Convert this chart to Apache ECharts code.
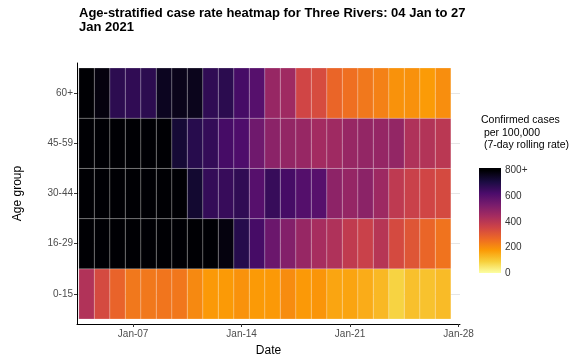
<!DOCTYPE html>
<html>
<head>
<meta charset="utf-8">
<script src="https://cdn.jsdelivr.net/npm/echarts@6/dist/echarts.min.js"></script>
<style>html,body{margin:0;padding:0;background:#fff}#c{width:585px;height:362px}</style>
</head>
<body>
<div id="c"></div>
<script>
// ---- data ----
var dates = ['2021-01-04','2021-01-05','2021-01-06','2021-01-07','2021-01-08','2021-01-09','2021-01-10','2021-01-11',
  '2021-01-12','2021-01-13','2021-01-14','2021-01-15','2021-01-16','2021-01-17','2021-01-18','2021-01-19',
  '2021-01-20','2021-01-21','2021-01-22','2021-01-23','2021-01-24','2021-01-25','2021-01-26','2021-01-27'];
var ageGroups = ['0-15','16-29','30-44','45-59','60+'];
var rate_0_15   = [420,340,280,240,240,244,242,208,180,178,192,178,180,204,180,186,160,162,148,128,84,116,112,124];
var rate_16_29  = [960,990,1010,1000,980,950,920,880,840,785,690,632,560,512,472,440,424,388,368,408,340,312,276,248];
var rate_30_44  = [930,960,950,920,890,860,820,736,664,660,672,600,660,632,605,598,492,476,495,460,392,368,352,340];
var rate_45_59  = [880,900,910,870,850,820,728,688,664,632,616,552,496,480,472,448,456,472,480,476,480,424,416,400];
var rate_60plus = [850,785,680,672,680,760,768,765,672,682,632,600,472,456,352,336,276,256,240,224,192,194,176,200];
var xTickDays = [7,14,21,28];
var xTickLabels = ['Jan-07','Jan-14','Jan-21','Jan-28'];
var legendTicks = [0,200,400,600,800];
var legendTickLabels = ['0','200','400','600','800+'];
var capValue = 800;

// ---- build ----
var rows = [rate_0_15, rate_16_29, rate_30_44, rate_45_59, rate_60plus];
var cells = [];
rows.forEach(function(r, yi){
  r.forEach(function(v, di){
    var day = Number(dates[di].slice(8));
    cells.push([day, yi, v, Math.min(v, capValue)]);
  });
});
var inferno = ['#FCFFA4','#F7D03C','#FB9A06','#ED6925','#CF4446','#A52C60','#781C6D','#4B0C6B','#1B0C42','#000004'];
var barMax = 820;
var stops = inferno.map(function(c, i){
  var v = capValue * i / (inferno.length - 1);
  return {offset: 1 - v / barMax, color: c};
}).reverse();
stops.unshift({offset: 0, color: '#000004'});

var FF = 'Liberation Sans, Arial, sans-serif';
var chart = echarts.init(document.getElementById('c'), null, {width:585, height:362, renderer:'canvas'});
chart.setOption({
  animation: false,
  backgroundColor: '#fff',
  title: [{
    text: 'Age-stratified case rate heatmap for Three Rivers: 04 Jan to 27\nJan 2021',
    left: 74, top: 1,
    textStyle: {fontFamily: FF, fontSize: 13, fontWeight: 'bold', color: '#000', lineHeight: 14}
  },{
    text: 'Confirmed cases\n per 100,000\n (7-day rolling rate)',
    left: 476, top: 109,
    textStyle: {fontFamily: FF, fontSize: 10.5, fontWeight: 'normal', color: '#000', lineHeight: 12.5}
  }],
  grid: [
    {left: 77, right: 125, top: 63, bottom: 38, containLabel: false},
    {left: 479, top: 168, width: 22, height: 105, containLabel: false}
  ],
  visualMap: {
    type: 'continuous', show: false, min: 0, max: capValue, dimension: 3, seriesIndex: 0,
    inRange: {color: inferno}
  },
  xAxis: [{
    gridIndex: 0, type: 'value', min: 3.38, max: 28.09,
    name: 'Date', nameLocation: 'middle', nameGap: 21,
    nameTextStyle: {fontFamily: FF, fontSize: 12, color: '#000'},
    axisLine: {show: true, onZero: false, lineStyle: {color: '#000', width: 1}},
    axisTick: {show: true, length: 3, customValues: xTickDays, lineStyle: {color: '#333'}},
    axisLabel: {customValues: xTickDays, margin: 5, fontFamily: FF, fontSize: 10, color: '#4d4d4d',
      formatter: function(v){ var i = xTickDays.indexOf(v); return i >= 0 ? xTickLabels[i] : ''; }},
    splitLine: {show: false}
  },{
    gridIndex: 1, type: 'category', data: ['bar'], show: false
  }],
  yAxis: [{
    gridIndex: 0, type: 'value', min: -0.6, max: 4.6,
    name: 'Age group', nameLocation: 'middle', nameGap: 53, nameRotate: 90,
    nameTextStyle: {fontFamily: FF, fontSize: 12, color: '#000'},
    axisLine: {show: true, lineStyle: {color: '#000', width: 1}},
    axisTick: {show: true, length: 3, customValues: [0,1,2,3,4], lineStyle: {color: '#333'}},
    axisLabel: {customValues: [0,1,2,3,4], margin: 4, fontFamily: FF, fontSize: 10, color: '#4d4d4d',
      formatter: function(v){ return ageGroups[Math.round(v)] || ''; }},
    splitLine: {show: true, customValues: [0,1,2,3,4], lineStyle: {color: '#e6e6e6', width: 1}}
  },{
    gridIndex: 1, type: 'value', min: 0, max: barMax, position: 'right',
    axisLine: {show: false},
    axisTick: {show: true, inside: true, length: 4, customValues: legendTicks, lineStyle: {color: '#fff', width: 1}},
    axisLabel: {customValues: legendTicks, margin: 4, fontFamily: FF, fontSize: 10, color: '#333',
      formatter: function(v){ var i = legendTicks.indexOf(v); return i >= 0 ? legendTickLabels[i] : ''; }},
    splitLine: {show: false}
  },{
    gridIndex: 1, type: 'value', min: 0, max: barMax, position: 'left',
    axisLine: {show: false},
    axisTick: {show: true, inside: true, length: 4, customValues: legendTicks, lineStyle: {color: '#fff', width: 1}},
    axisLabel: {show: false},
    splitLine: {show: false}
  }],
  series: [{
    type: 'custom',
    xAxisIndex: 0, yAxisIndex: 0,
    data: cells,
    encode: {x: 0, y: 1},
    renderItem: function(params, api){
      var p = api.coord([api.value(0) - 0.5, api.value(1) + 0.5]);
      var s = api.size([1, 1]);
      return {
        type: 'rect',
        shape: {x: p[0], y: p[1], width: s[0], height: s[1]},
        style: {fill: api.visual('color'), stroke: 'rgba(255,255,255,0.35)', lineWidth: 0.6}
      };
    }
  },{
    type: 'bar', xAxisIndex: 1, yAxisIndex: 1,
    data: [barMax], barWidth: '100%', silent: true,
    itemStyle: {color: {type: 'linear', x: 0, y: 0, x2: 0, y2: 1, colorStops: stops}}
  }]
});
</script>
</body>
</html>
